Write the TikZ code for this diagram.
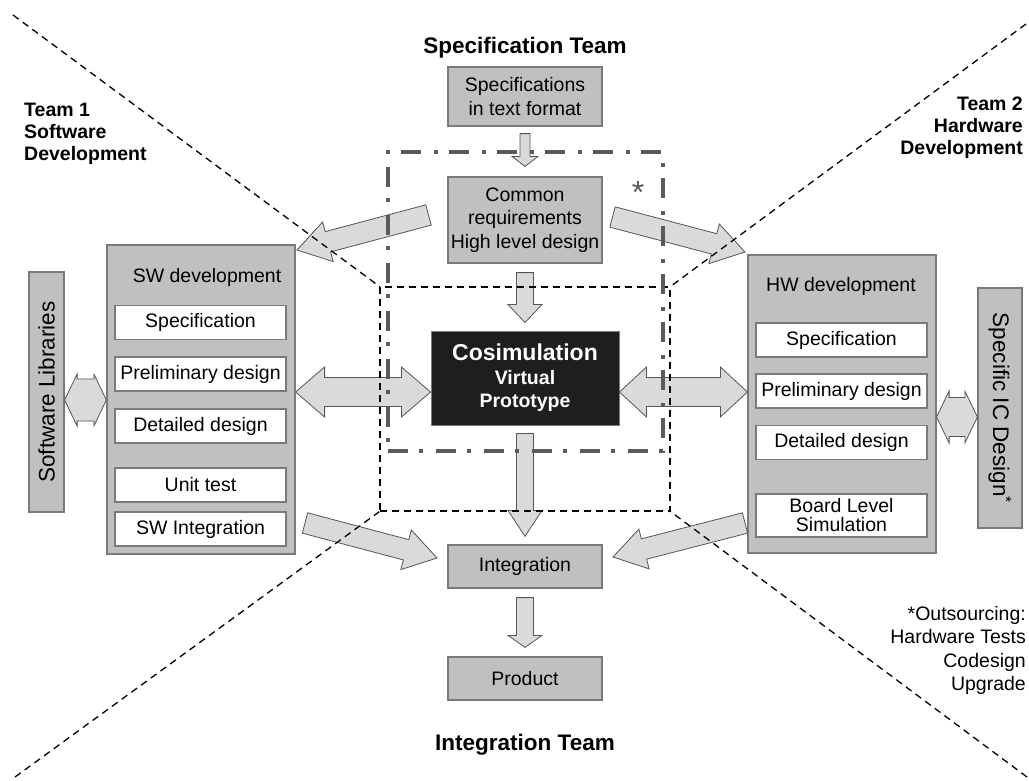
\documentclass[tikz,border=0pt]{standalone}
\usepackage{fontspec}
\setmainfont{Liberation Sans}
\usetikzlibrary{calc}
\definecolor{boxgray}{HTML}{C0C0C0}
\definecolor{edgegray}{HTML}{7A7A7A}
\definecolor{arrowfill}{HTML}{DADADA}
\definecolor{arrowedge}{HTML}{555555}
\definecolor{framegray}{HTML}{5A5A5A}
\definecolor{cosimfill}{HTML}{1E1E1E}
\newcommand{\txtn}{\fontsize{19.5}{23.5}\selectfont}
\newcommand{\txtb}{\fontsize{22.5}{26}\selectfont}
% single fat arrow: tail, tip, shaft half width, head half width, head length
\newcommand{\fatsingle}[5]{%
  \coordinate (fc) at ($(#2)!#5!(#1)$);
  \draw[fatarrow] ($(#1)!#3!90:(#2)$) -- ($(fc)!#3!-90:(#1)$) -- ($(fc)!#4!-90:(#1)$) -- (#2)
    -- ($(fc)!#4!90:(#1)$) -- ($(fc)!#3!90:(#1)$) -- ($(#1)!#3!-90:(#2)$) -- cycle;}
% double fat arrow: tip A, tip B, shaft half width, head half width, head length
\newcommand{\fatdouble}[5]{%
  \coordinate (fa) at ($(#1)!#5!(#2)$);
  \coordinate (fb) at ($(#2)!#5!(#1)$);
  \draw[fatarrow] (#1) -- ($(fa)!#4!90:(#2)$) -- ($(fa)!#3!90:(#2)$) -- ($(fb)!#3!-90:(#1)$)
    -- ($(fb)!#4!-90:(#1)$) -- (#2) -- ($(fb)!#4!90:(#1)$) -- ($(fb)!#3!90:(#1)$)
    -- ($(fa)!#3!-90:(#2)$) -- ($(fa)!#4!-90:(#2)$) -- cycle;}
\begin{document}
\begin{tikzpicture}[x=1pt,y=-1pt,
  fatarrow/.style={draw=arrowedge, fill=arrowfill, line width=0.8pt, line join=miter},
  graybox/.style={draw=edgegray, fill=boxgray, line width=1.2pt, inner sep=0pt, align=center, font=\txtn},
  whitebox/.style={draw=edgegray, fill=white, line width=1.2pt, inner sep=0pt, align=center, font=\txtn,
    minimum width=171pt, minimum height=34pt},
  cosimbox/.style={draw=edgegray, fill=cosimfill, text=white, line width=1pt, inner sep=0pt, align=center,
    font=\bfseries\fontsize{19.5}{23.5}\selectfont, minimum width=188pt, minimum height=94pt},
  titletxt/.style={font=\bfseries\txtb, inner sep=0pt},
  teamlabel/.style={font=\bfseries\fontsize{19.5}{22}\selectfont, inner sep=0pt},
  plaintxt/.style={font=\txtn, inner sep=0pt},
  simzone/.style={draw=black, line width=1.3pt, dash pattern=on 7pt off 5pt, minimum width=290pt, minimum height=224pt, inner sep=0pt},
  simframe/.style={draw=framegray, line width=4.5pt, dash pattern=on 20pt off 11pt on 4pt off 13pt, minimum width=275pt, minimum height=299pt, inner sep=0pt},
  divider/.style={draw=black, line width=1.3pt, dash pattern=on 7pt off 5pt},
  asttext/.style={text=framegray, font=\fontsize{32}{34}\selectfont, inner sep=0pt}
]
\useasboundingbox (0,0) rectangle (1029,780);
\fill[white] (0,0) rectangle (1029,780);

% titles
\node[titletxt] (specteam) at (525,48) {Specification Team};
\node[titletxt] (integteam) at (525,745) {Integration Team};
\node[teamlabel, align=left, anchor=north west] (team1) at (24,103) {Team 1\\Software\\Development};
\node[teamlabel, align=right, anchor=north east] (team2) at (1023,97) {Team 2\\Hardware\\Development};
\node[plaintxt, align=right, anchor=north east] (outs) at (1026,606)
  {*Outsourcing:\\Hardware Tests\\Codesign\\Upgrade};

% central column
\node[graybox, minimum width=154pt, minimum height=59pt, font=\fontsize{19.5}{24}\selectfont] (spec) at (525,96.5) {Specifications\\in text format};
\node[graybox, minimum width=154pt, minimum height=86pt] (common) at (525,220) {Common\\requirements\\High level design};
\node[cosimbox] (cosim) at (525,378) {{\fontsize{23}{26}\selectfont Cosimulation}\\Virtual\\Prototype};
\node[graybox, minimum width=154pt, minimum height=43pt] (integ) at (525,566.5) {Integration};
\node[graybox, minimum width=154pt, minimum height=43pt] (product) at (525,678.5) {Product};

% SW side
\node[graybox, minimum width=188pt, minimum height=309pt] (swdev) at (201,399.5) {};
\node[plaintxt] (swlabel) at (207,277) {SW development};
\node[whitebox] (swspec) at (200.5,322.5) {Specification};
\node[whitebox] (swprel) at (200.5,374) {Preliminary design};
\node[whitebox] (swdet) at (200.5,426) {Detailed design};
\node[whitebox] (swunit) at (200.5,485) {Unit test};
\node[whitebox] (swint) at (200.5,529) {SW Integration};
\node[graybox, rotate=90, minimum width=240pt, minimum height=35pt, font=\txtb] (swlib) at (46.5,392) {Software Libraries};

% HW side
\node[graybox, minimum width=188pt, minimum height=298pt] (hwdev) at (842,404) {};
\node[plaintxt] (hwlabel) at (841,286) {HW development};
\node[whitebox] (hwspec) at (841.5,340) {Specification};
\node[whitebox] (hwprel) at (841.5,391) {Preliminary design};
\node[whitebox] (hwdet) at (841.5,442.5) {Detailed design};
\node[whitebox, minimum height=43pt, font=\fontsize{19.5}{19}\selectfont] (hwboard) at (841.5,515.5) {Board Level\\Simulation};
\node[graybox, rotate=-90, minimum width=240pt, minimum height=44pt, font=\txtb] (iclib) at (1000,408) {Specific IC Design\textsuperscript{*}};

% vertical arrows
\coordinate (v1s) at ($(spec.south)+(0,7)$);   \coordinate (v1e) at ($(common.north)+(0,-10)$);
\coordinate (v2s) at ($(common.south)+(0,9)$); \coordinate (v2e) at ($(cosim.north)+(0,-8)$);
\coordinate (v3s) at ($(cosim.south)+(0,8)$);  \coordinate (v3e) at ($(integ.north)+(0,-8)$);
\coordinate (v4s) at ($(integ.south)+(0,9)$);  \coordinate (v4e) at ($(product.north)+(0,-9)$);
\fatsingle{v1s}{v1e}{5pt}{13pt}{10pt}
\fatsingle{v2s}{v2e}{8.5pt}{17pt}{18pt}
\fatsingle{v3s}{v3e}{8.5pt}{17pt}{26pt}
\fatsingle{v4s}{v4e}{8.5pt}{17pt}{12pt}

% horizontal double arrows
\coordinate (h1a) at (swlib.south |- 0,400); \coordinate (h1b) at (swdev.west |- 0,400);
\coordinate (h2a) at (swdev.east |- 0,392);  \coordinate (h2b) at (cosim.west |- 0,392);
\coordinate (h3a) at (cosim.east |- 0,392);  \coordinate (h3b) at (hwdev.west |- 0,392);
\coordinate (h4a) at (hwdev.east |- 0,417);  \coordinate (h4b) at (iclib.south |- 0,417);
\fatdouble{h1a}{h1b}{21pt}{26pt}{12.5pt}
\fatdouble{h2a}{h2b}{14.5pt}{25pt}{29pt}
\fatdouble{h3a}{h3b}{14.5pt}{25pt}{27pt}
\fatdouble{h4a}{h4b}{19.5pt}{26pt}{12.5pt}

% diagonal arrows
\coordinate (g1s) at (428.5,215); \coordinate (g1e) at (297,250);
\coordinate (g2s) at (612.5,217); \coordinate (g2e) at (745,252);
\coordinate (g3s) at (305,523);   \coordinate (g3e) at (437,558);
\coordinate (g4s) at (745,523);   \coordinate (g4e) at (613,557);
\fatsingle{g1s}{g1e}{10.5pt}{20.5pt}{32pt}
\fatsingle{g2s}{g2e}{10.5pt}{20.5pt}{32pt}
\fatsingle{g3s}{g3e}{10.5pt}{20.5pt}{32pt}
\fatsingle{g4s}{g4e}{10.5pt}{20.5pt}{32pt}

% frames
\node[simzone] (zone) at (525,399) {};
\node[simframe] (frame) at (525.5,301.5) {};
\node[asttext] (ast) at (638,192) {*};

% dividers
\coordinate (cTL) at (13,15);
\coordinate (cTR) at (1026,24);
\coordinate (cBL) at (15,777);
\coordinate (cBR) at (1027,777);
\draw[divider] (cTL) -- (zone.north west);
\draw[divider] (cTR) -- (zone.north east);
\draw[divider] (cBL) -- (zone.south west);
\draw[divider] (cBR) -- (zone.south east);
\end{tikzpicture}
\end{document}
